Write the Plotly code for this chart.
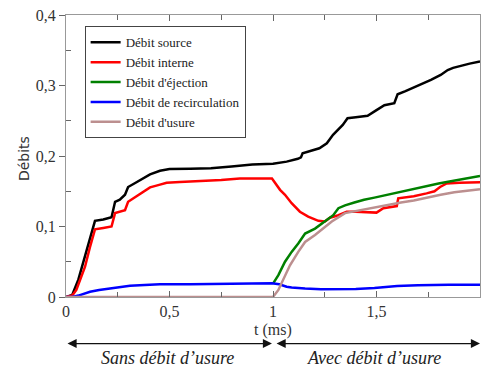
import plotly.graph_objects as go

# ---------------- data ----------------
src_x = [0, 0.03, 0.06, 0.092, 0.115, 0.14, 0.18, 0.22, 0.237, 0.26, 0.285, 0.30, 0.33, 0.357,
         0.406, 0.454, 0.50, 0.60, 0.70, 0.80, 0.90, 1.00, 1.066, 1.12, 1.135, 1.143, 1.18, 1.224,
         1.26, 1.28, 1.29, 1.337, 1.36, 1.40, 1.457, 1.50, 1.538, 1.586, 1.602, 1.64, 1.683, 1.72,
         1.763, 1.81, 1.844, 1.87, 1.908, 1.95, 2.0]
src_y = [0, 0.003, 0.025, 0.057, 0.08, 0.108, 0.110, 0.113, 0.135, 0.138, 0.145, 0.156, 0.161,
         0.166, 0.174, 0.179, 0.1815, 0.182, 0.1825, 0.185, 0.188, 0.189, 0.192, 0.196, 0.198,
         0.204, 0.207, 0.211, 0.218, 0.226, 0.230, 0.244, 0.2535, 0.255, 0.257, 0.265, 0.272,
         0.275, 0.2875, 0.292, 0.2975, 0.302, 0.308, 0.315, 0.322, 0.325, 0.328, 0.331, 0.334]

int_x = [0, 0.03, 0.05, 0.07, 0.092, 0.115, 0.14, 0.18, 0.22, 0.237, 0.26, 0.285, 0.30, 0.33,
         0.357, 0.406, 0.45, 0.486, 0.55, 0.65, 0.75, 0.84, 0.92, 0.995, 1.034, 1.058, 1.09, 1.13,
         1.17, 1.219, 1.251, 1.275, 1.316, 1.356, 1.40, 1.45, 1.50, 1.533, 1.598, 1.605, 1.68,
         1.742, 1.78, 1.807, 1.839, 1.90, 2.0]
int_y = [0, 0.002, 0.01, 0.025, 0.043, 0.07, 0.096, 0.098, 0.10, 0.119, 0.121, 0.123, 0.135,
         0.141, 0.146, 0.1555, 0.159, 0.162, 0.163, 0.164, 0.166, 0.168, 0.168, 0.168, 0.152,
         0.145, 0.133, 0.121, 0.114, 0.108, 0.107, 0.1125, 0.116, 0.121, 0.121, 0.120, 0.1197,
         0.126, 0.129, 0.140, 0.143, 0.147, 0.150, 0.156, 0.161, 0.162, 0.1627]

eje_x = [1.0, 1.026, 1.058, 1.09, 1.122, 1.155, 1.203, 1.251, 1.291, 1.316, 1.348, 1.393, 1.44,
         1.49, 1.55, 1.598, 1.65, 1.70, 1.758, 1.80, 1.839, 1.90, 1.95, 2.0]
eje_y = [0.019, 0.031, 0.050, 0.064, 0.076, 0.090, 0.097, 0.107, 0.116, 0.126, 0.130, 0.134,
         0.138, 0.141, 0.145, 0.148, 0.151, 0.155, 0.159, 0.161, 0.163, 0.166, 0.169, 0.1716]

rec_x = [0, 0.03, 0.06, 0.09, 0.116, 0.16, 0.213, 0.26, 0.309, 0.38, 0.454, 0.6, 0.76, 0.9,
         0.995, 1.03, 1.066, 1.09, 1.13, 1.155, 1.232, 1.30, 1.40, 1.49, 1.55, 1.6, 1.7, 1.747,
         1.85, 2.0]
rec_y = [0, 0, 0.002, 0.005, 0.0075, 0.010, 0.012, 0.014, 0.016, 0.017, 0.018, 0.018, 0.0184,
         0.019, 0.0194, 0.018, 0.0146, 0.0135, 0.0123, 0.012, 0.011, 0.011, 0.0115, 0.0128,
         0.014, 0.0156, 0.0165, 0.017, 0.0175, 0.0175]

usu_x = [0, 1.0, 1.026, 1.05, 1.082, 1.122, 1.155, 1.203, 1.243, 1.284, 1.348, 1.40, 1.45, 1.49,
         1.55, 1.618, 1.68, 1.747, 1.81, 1.876, 1.94, 2.0]
usu_y = [0, 0, 0.010, 0.024, 0.045, 0.064, 0.078, 0.088, 0.097, 0.107, 0.119, 0.122, 0.125,
         0.127, 0.130, 0.134, 0.137, 0.1414, 0.145, 0.1485, 0.151, 0.153]

series_names = ["Débit source", "Débit interne", "Débit d'éjection",
                "Débit de recirculation", "Débit d'usure"]

x_tick_vals = [0, 0.5, 1, 1.5, 2]
x_tick_text = ["0", "0,5", "1", "1,5", "2"]
y_tick_vals = [0, 0.1, 0.2, 0.3, 0.4]
y_tick_text = ["0", "0,1", "0,2", "0,3", "0,4"]

x_title = "t (ms)"
y_title = "Débits"
phase_labels = ["Sans débit d’usure", "Avec débit d’usure"]
phase_centers = [0.488, 1.49]
phase_spans = [(0.0, 0.995), (1.01, 2.0)]

# ---------------- figure ----------------
colors = ["#000000", "#ff0000", "#008000", "#0000ff", "#bc8f8f"]
data = [(src_x, src_y), (int_x, int_y), (eje_x, eje_y), (rec_x, rec_y), (usu_x, usu_y)]

SERIF = "Liberation Serif"

fig = go.Figure()
for (xs, ys), name, c in zip(data, series_names, colors):
    fig.add_trace(go.Scatter(x=xs, y=ys, mode="lines", name=name,
                             line=dict(color=c, width=2.5), showlegend=True))

axis_col = "#999999"
tick_font = dict(family=SERIF, size=16, color="#333333")

fig.update_layout(
    width=482, height=367,
    margin=dict(l=66, r=2, t=15, b=70, autoexpand=False),
    paper_bgcolor="white", plot_bgcolor="white",
    separators=", ",
    showlegend=True,
    legend=dict(x=0.045, y=0.96, xanchor="left", yanchor="top",
                bgcolor="white", bordercolor="#444444", borderwidth=1,
                font=dict(family=SERIF, size=13, color="#222222"),
                tracegroupgap=0, itemwidth=30),
    xaxis=dict(range=[0, 2], tickvals=x_tick_vals, ticktext=x_tick_text,
               showgrid=False, zeroline=False, showline=True, linecolor=axis_col,
               linewidth=1, mirror="ticks", ticks="inside", ticklen=6,
               tickcolor="#666666", tickfont=tick_font,
               minor=dict(tickvals=[0.25, 0.75, 1.25, 1.75], ticks="inside",
                          ticklen=5, tickcolor="#666666")),
    yaxis=dict(range=[0, 0.4], tickvals=y_tick_vals, ticktext=y_tick_text,
               showgrid=False, zeroline=False, showline=True, linecolor=axis_col,
               linewidth=1, mirror=True, ticks="outside", ticklen=6,
               tickcolor="#666666", tickfont=tick_font,
               minor=dict(tickvals=[0.05, 0.15, 0.25, 0.35], ticks="inside",
                          ticklen=5, tickcolor="#666666")),
    yaxis2=dict(range=[0, 0.4], overlaying="y", side="right", anchor="x",
                tickvals=[0.05, 0.1, 0.15, 0.2, 0.25, 0.3, 0.35],
                ticks="inside", ticklen=5, tickcolor="#666666",
                showticklabels=False, showgrid=False, zeroline=False, showline=False),
)

anns = []
anns.append(dict(text=y_title, x=-0.125, y=0.49, xref="paper", yref="paper",
                 textangle=-90, showarrow=False,
                 font=dict(family="DejaVu Sans", size=14, color="#333333")))
anns.append(dict(text=x_title, x=1.0, y=-0.117, xref="x", yref="paper",
                 showarrow=False, yanchor="middle",
                 font=dict(family=SERIF, size=16, color="#333333")))
for (a, b), lab, cx in zip(phase_spans, phase_labels, phase_centers):
    anns.append(dict(text="", x=b, y=-0.165, xref="x", yref="paper",
                     ax=a, axref="x", ay=0, ayref="pixel",
                     showarrow=True, arrowhead=2, startarrowhead=2,
                     arrowside="end+start", arrowsize=1.4, startarrowsize=1.4,
                     arrowwidth=1.3, arrowcolor="#111111"))
    anns.append(dict(text="<i>" + lab + "</i>", x=cx, y=-0.215, xref="x", yref="paper",
                     showarrow=False, yanchor="middle",
                     font=dict(family=SERIF, size=18, color="#222222")))
fig.update_layout(annotations=anns)

fig.write_html("out.html", config={"displayModeBar": False},
               post_script="document.body.style.margin='0';document.body.style.overflow='hidden';")
